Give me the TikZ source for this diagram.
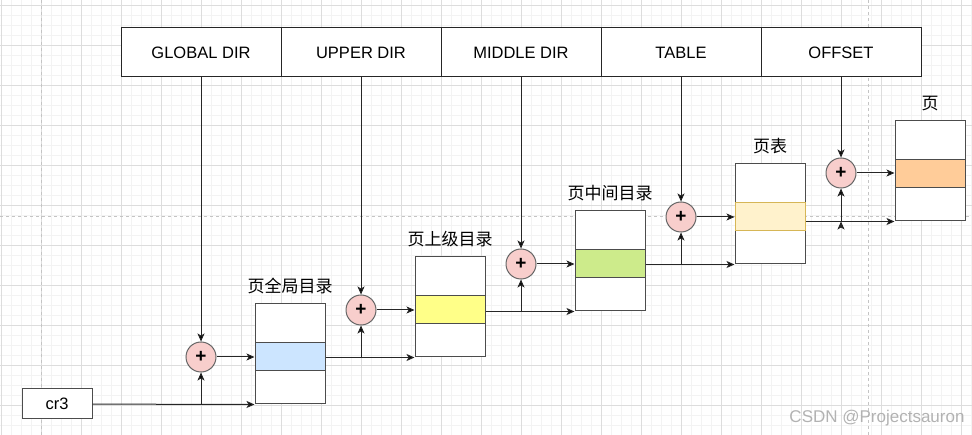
\documentclass[tikz,border=0pt]{standalone}
\usepackage{fontspec}
\setmainfont{Liberation Sans}
\newfontfamily\cjk{Noto Sans CJK SC}
\usepackage{tikz}
\usetikzlibrary{arrows.meta,positioning}
\definecolor{gridminor}{HTML}{F3F3F3}
\definecolor{gridmajor}{HTML}{DDDDDD}
\definecolor{pagebreak}{HTML}{C4C4C4}
\definecolor{adderfill}{HTML}{F8CECC}
\definecolor{pgdblue}{HTML}{CCE5FF}
\definecolor{pudyellow}{HTML}{FFFF88}
\definecolor{pmdgreen}{HTML}{CDEB8B}
\definecolor{ptefill}{HTML}{FFF2CC}
\definecolor{pteline}{HTML}{D6B656}
\definecolor{pageorange}{HTML}{FFCC99}
\tikzset{font={\fontsize{16.5pt}{19}\selectfont}}

\begin{document}
\begin{tikzpicture}[x=1pt,y=-1pt,line width=1pt,
                    >={Stealth[length=8pt,width=7pt,inset=2pt]},
                    field/.style={rectangle,draw=black!85,fill=white,outer sep=0pt,
                                  minimum width=160pt,minimum height=49pt,inner sep=0pt},
                    adder/.style={circle,draw=black!60,fill=adderfill,minimum size=30pt,
                                  inner sep=0pt,font=\bfseries\fontsize{19pt}{20}\selectfont},
                    tblbox/.style={rectangle,draw=black!70,fill=white,minimum width=70pt,
                                   minimum height=100pt,inner sep=0pt},
                    entry/.style={rectangle,draw=black!70,minimum width=70pt,
                                  minimum height=28pt,inner sep=0pt},
                    reg/.style={rectangle,draw=black!70,fill=white,minimum width=70pt,
                                minimum height=30pt,inner sep=0pt},
                    title/.style={font=\cjk\fontsize{17pt}{20}\selectfont},
                    watermark/.style={text=black!30,font=\fontsize{17pt}{20}\selectfont},
                    link/.style={->,draw=black!85}]
  \useasboundingbox (0,0) rectangle (972,435);

  % drawio canvas grid and page breaks
  \foreach \x in {1,11,...,971} \draw[gridminor] (\x,0) -- (\x,435);
  \foreach \y in {6,16,...,426} \draw[gridminor] (0,\y) -- (972,\y);
  \foreach \x in {1,41,...,961} \draw[gridmajor] (\x,0) -- (\x,435);
  \foreach \y in {6,46,...,406} \draw[gridmajor] (0,\y) -- (972,\y);
  \draw[pagebreak,dash pattern=on 3pt off 3pt] (41,0) -- (41,435)
       (868,0) -- (868,435) (0,216.5) -- (972,216.5);

  % linear address fields
  \node[field] (gdir) at (201,52.5) {GLOBAL DIR};
  \node[field] (udir) [right=0pt of gdir] {UPPER DIR};
  \node[field] (mdir) [right=0pt of udir] {MIDDLE DIR};
  \node[field] (tbl) [right=0pt of mdir] {TABLE};
  \node[field] (off) [right=0pt of tbl] {OFFSET};

  \node[reg] (cr3) at (57,404) {cr3};

  % adders
  \node[adder] (a1) at (201,357) {+};
  \node[adder] (a2) at (361,310) {+};
  \node[adder] (a3) at (521,264) {+};
  \node[adder] (a4) at (681,217) {+};
  \node[adder] (a5) at (841,173) {+};

  % tables
  \node[tblbox] (pgd) at (290,354) {};
  \node[tblbox] (pud) at (450,307) {};
  \node[tblbox] (pmd) at (610,261) {};
  \node[tblbox] (pte) at (770,214) {};
  \node[tblbox] (pg) at (930,171) {};
  \node[entry,fill=pgdblue] (pgde) [below=39pt of pgd.north] {};
  \node[entry,fill=pudyellow] (pude) [below=39pt of pud.north] {};
  \node[entry,fill=pmdgreen] (pmde) [below=39pt of pmd.north] {};
  \node[entry,fill=ptefill,draw=pteline] (ptee) [below=39pt of pte.north] {};
  \node[entry,fill=pageorange] (pge) [below=39pt of pg.north] {};
  \node[title] (pgdl) [above=6pt of pgd] {页全局目录};
  \node[title] (pudl) [above=6pt of pud] {页上级目录};
  \node[title] (pmdl) [above=6pt of pmd] {页中间目录};
  \node[title] (ptel) [above=6pt of pte] {页表};
  \node[title] (pgl) [above=6pt of pg] {页};

  \path[link]
    (gdir) edge (a1)
    (udir) edge (a2)
    (mdir) edge (a3)
    (tbl) edge (a4)
    (off) edge (a5)
    (a1) edge (a1 -| pgd.west)
    (a2) edge (a2 -| pud.west)
    (a3) edge (a3 -| pmd.west)
    (a4) edge (a4 -| pte.west)
    (a5) edge (a5 -| pg.west)
    (cr3) edge (pgd.south west)
    (a1 |- cr3) edge (a1)
    (pud.south west -| pgde.east) edge (pud.south west)
    (a2 |- pud.south) edge (a2)
    (pmd.south west -| pude.east) edge (pmd.south west)
    (a3 |- pmd.south) edge (a3)
    (pte.south west -| pmde.east) edge (pte.south west)
    (a4 |- pte.south) edge (a4)
    (pg.south west -| ptee.east) edge (pg.south west)
    (a5 |- pg.south) edge (a5);

  \node[watermark] (wm) at (877,418) {CSDN @Projectsauron};
\end{tikzpicture}
\end{document}
